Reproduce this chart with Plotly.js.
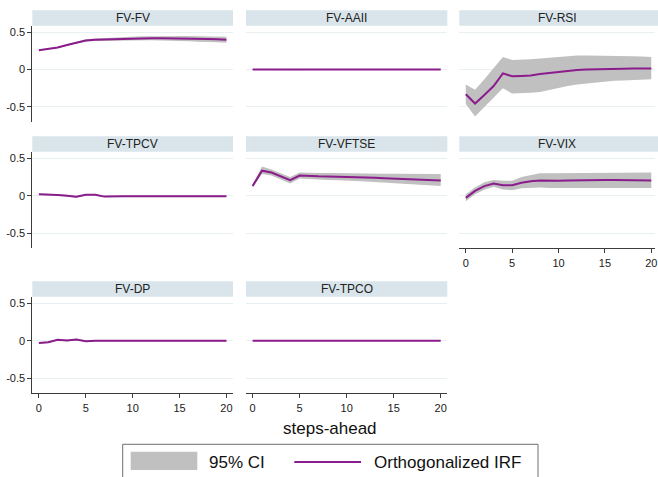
<!DOCTYPE html>
<html>
<head>
<meta charset="utf-8">
<script src="https://cdn.plot.ly/plotly-3.0.1.min.js"></script>
<style>html,body{margin:0;padding:0;background:#fff;}#chart{width:658px;height:477px;}</style>
</head>
<body>
<div id="chart"></div>
<script>
// ---- data ----
var steps = [0,1,2,3,4,5,6,7,8,9,10,11,12,13,14,15,16,17,18,19,20];
var panelNames = ["FV-FV","FV-AAII","FV-RSI","FV-TPCV","FV-VFTSE","FV-VIX","FV-DP","FV-TPCO"];
var xTicks = [0,5,10,15,20];
var yTicks = [-0.5,0,0.5];
var yTickLabels = ["-0.5","0","0.5"];
var legendLabels = ["95% CI","Orthogonalized IRF"];
var xTitle = "steps-ahead";

var irf_FV_FV   = [0.26,0.275,0.295,0.33,0.36,0.39,0.40,0.405,0.41,0.415,0.42,0.42,0.42,0.42,0.42,0.415,0.415,0.41,0.41,0.405,0.40];
var lo_FV_FV    = [0.255,0.269,0.287,0.32,0.348,0.375,0.383,0.386,0.389,0.392,0.395,0.393,0.392,0.39,0.389,0.382,0.381,0.374,0.373,0.366,0.36];
var hi_FV_FV    = [0.265,0.281,0.303,0.34,0.372,0.405,0.417,0.424,0.431,0.438,0.445,0.447,0.448,0.45,0.451,0.448,0.449,0.446,0.447,0.444,0.44];

var irf_FV_AAII = [0,0,-0.003,-0.005,-0.004,-0.003,-0.002,-0.001,0,0.002,0.002,0.002,0.001,0.001,0,0,0,0,0,0,0];
var lo_FV_AAII  = [-0.004,-0.006,-0.012,-0.014,-0.012,-0.009,-0.007,-0.006,-0.005,-0.003,-0.003,-0.003,-0.004,-0.004,-0.005,-0.005,-0.005,-0.005,-0.005,-0.005,-0.005];
var hi_FV_AAII  = [0.004,0.005,0.005,0.004,0.004,0.004,0.005,0.006,0.008,0.01,0.01,0.009,0.007,0.006,0.005,0.005,0.005,0.005,0.005,0.005,0.005];

var irf_FV_RSI  = [-0.33,-0.455,-0.34,-0.22,-0.05,-0.09,-0.085,-0.08,-0.06,-0.045,-0.03,-0.015,-0.005,0.0,0.005,0.005,0.01,0.012,0.014,0.015,0.015];
var lo_FV_RSI   = [-0.46,-0.63,-0.5,-0.38,-0.25,-0.32,-0.32,-0.31,-0.3,-0.27,-0.24,-0.22,-0.2,-0.185,-0.17,-0.16,-0.15,-0.145,-0.14,-0.135,-0.13];
var hi_FV_RSI   = [-0.2,-0.27,-0.13,0.02,0.17,0.13,0.14,0.14,0.15,0.16,0.18,0.185,0.19,0.19,0.19,0.19,0.19,0.185,0.18,0.175,0.17];

var irf_FV_TPCV = [0.022,0.02,0.01,0.003,-0.013,0.015,0.015,-0.01,-0.004,-0.004,-0.004,-0.005,-0.005,-0.005,-0.005,-0.005,-0.005,-0.005,-0.005,-0.005,-0.005];
var lo_FV_TPCV  = [0.014,0.011,0.0,-0.008,-0.024,0.004,0.004,-0.02,-0.012,-0.011,-0.011,-0.011,-0.011,-0.011,-0.011,-0.011,-0.011,-0.011,-0.011,-0.011,-0.011];
var hi_FV_TPCV  = [0.03,0.029,0.02,0.014,-0.002,0.026,0.026,0.0,0.004,0.003,0.003,0.001,0.001,0.001,0.001,0.001,0.001,0.001,0.001,0.001,0.001];

var irf_FV_VFTSE = [0.13,0.335,0.31,0.26,0.21,0.27,0.262,0.26,0.258,0.256,0.255,0.25,0.245,0.24,0.235,0.23,0.225,0.22,0.215,0.21,0.205];
var lo_FV_VFTSE  = [0.11,0.29,0.27,0.22,0.165,0.23,0.22,0.215,0.21,0.207,0.205,0.198,0.19,0.182,0.175,0.167,0.16,0.152,0.145,0.138,0.13];
var hi_FV_VFTSE  = [0.15,0.39,0.35,0.30,0.25,0.31,0.305,0.305,0.305,0.305,0.305,0.302,0.3,0.298,0.296,0.294,0.292,0.29,0.29,0.29,0.29];

var irf_FV_VIX  = [-0.027,0.067,0.13,0.165,0.143,0.143,0.175,0.196,0.205,0.2,0.2,0.205,0.208,0.21,0.21,0.21,0.21,0.21,0.21,0.207,0.205];
var lo_FV_VIX   = [-0.07,0.02,0.08,0.12,0.085,0.076,0.1,0.11,0.11,0.105,0.105,0.105,0.108,0.11,0.11,0.11,0.11,0.11,0.11,0.107,0.105];
var hi_FV_VIX   = [0.02,0.11,0.18,0.21,0.2,0.2,0.25,0.28,0.3,0.3,0.3,0.305,0.308,0.31,0.31,0.31,0.31,0.31,0.31,0.31,0.31];

var irf_FV_DP   = [-0.027,-0.018,0.015,0.005,0.018,-0.005,0,0,0,0,0,0,0,0,0,0,0,0,0,0,0];
var lo_FV_DP    = [-0.035,-0.027,0.006,-0.004,0.009,-0.013,-0.007,-0.007,-0.007,-0.007,-0.007,-0.007,-0.007,-0.007,-0.007,-0.007,-0.007,-0.007,-0.007,-0.007,-0.007];
var hi_FV_DP    = [-0.019,-0.009,0.024,0.014,0.027,0.003,0.007,0.007,0.007,0.007,0.007,0.007,0.007,0.007,0.007,0.007,0.007,0.007,0.007,0.007,0.007];

var irf_FV_TPCO = [0,0,0,0,0,0,0,0,0,0,0,0,0,0,0,0,0,0,0,0,0];
var lo_FV_TPCO  = [-0.003,-0.003,-0.003,-0.003,-0.003,-0.003,-0.003,-0.003,-0.003,-0.003,-0.003,-0.003,-0.003,-0.003,-0.003,-0.003,-0.003,-0.003,-0.003,-0.003,-0.003];
var hi_FV_TPCO  = [0.003,0.003,0.003,0.003,0.003,0.003,0.003,0.003,0.003,0.003,0.003,0.003,0.003,0.003,0.003,0.003,0.003,0.003,0.003,0.003,0.003];

var irfs = [irf_FV_FV, irf_FV_AAII, irf_FV_RSI, irf_FV_TPCV, irf_FV_VFTSE, irf_FV_VIX, irf_FV_DP, irf_FV_TPCO];
var los  = [lo_FV_FV, lo_FV_AAII, lo_FV_RSI, lo_FV_TPCV, lo_FV_VFTSE, lo_FV_VIX, lo_FV_DP, lo_FV_TPCO];
var his  = [hi_FV_FV, hi_FV_AAII, hi_FV_RSI, hi_FV_TPCV, hi_FV_VFTSE, hi_FV_VIX, hi_FV_DP, hi_FV_TPCO];

// ---- geometry (pixels) ----
var W = 658, H = 477;
var colPx = [[32.3,233],[246,447.3],[459.3,655]];
var colRange = [[-0.7,20.7],[-0.7,20.7],[-0.7,20.4]];
var rowPx = [[25.7,121.7],[151.7,248.3],[296.7,393.3]]; // plot top,bottom
var stripH = 15.5;
var yRange = [-0.698,0.588];
var LINE = "#8b1c8c", CI = "#c0c0c0", STRIP = "#d9e5eb", GRID = "#e9f0f2", AX = "#3c3c3c";
var FONT = "Liberation Sans, Arial, sans-serif";

function px2x(p){ return p / W; }
function px2y(p){ return 1 - p / H; }

var traces = [], layout = {
  width: W, height: H, margin: {l:0,r:0,t:0,b:0},
  paper_bgcolor: "#fff", plot_bgcolor: "#fff", showlegend: false,
  font: {family: FONT, color: "#1a1a1a", size: 11},
  shapes: [], annotations: []
};

// which panels show x axis (bottom of each column)
var showX = {6:true, 7:true, 5:true};

for (var i = 0; i < 8; i++) {
  var r = Math.floor(i / 3), c = i % 3;
  var n = i + 1;
  var xa = "x" + (n === 1 ? "" : n), ya = "y" + (n === 1 ? "" : n);
  var xk = "xaxis" + (n === 1 ? "" : n), yk = "yaxis" + (n === 1 ? "" : n);
  // CI band
  traces.push({x: steps, y: los[i], xaxis: xa, yaxis: ya, mode: "lines", line: {width: 0, color: CI}, hoverinfo: "skip", name: legendLabels[0]});
  traces.push({x: steps, y: his[i], xaxis: xa, yaxis: ya, mode: "lines", fill: "tonexty", fillcolor: CI, line: {width: 0, color: CI}, hoverinfo: "skip", name: legendLabels[0]});
  traces.push({x: steps, y: irfs[i], xaxis: xa, yaxis: ya, mode: "lines", line: {width: 2, color: LINE}, name: legendLabels[1]});

  layout[xk] = {
    domain: [px2x(colPx[c][0]), px2x(colPx[c][1])], range: colRange[c], anchor: ya,
    showgrid: false, zeroline: false,
    showline: !!showX[i], linecolor: AX, linewidth: 1,
    ticks: showX[i] ? "outside" : "", ticklen: 4, tickcolor: AX,
    tickvals: xTicks, ticktext: xTicks.map(String), showticklabels: !!showX[i],
    ticklabeloverflow: "allow",
    tickfont: {size: 11, color: "#1a1a1a", family: FONT}, fixedrange: true
  };
  layout[yk] = {
    domain: [px2y(rowPx[r][1]), px2y(rowPx[r][0])], range: yRange, anchor: xa,
    showgrid: true, gridcolor: GRID, gridwidth: 1, zeroline: false,
    showline: c === 0, linecolor: AX, linewidth: 1,
    ticks: c === 0 ? "outside" : "", ticklen: 4, tickcolor: AX,
    tickvals: yTicks, ticktext: yTickLabels, showticklabels: c === 0,
    ticklabeloverflow: "allow",
    tickfont: {size: 11, color: "#1a1a1a", family: FONT}, fixedrange: true
  };
  // strip
  layout.shapes.push({type: "rect", xref: "paper", yref: "paper",
    x0: px2x(colPx[c][0]), x1: px2x(c === 2 ? 658 : colPx[c][1]),
    y0: px2y(rowPx[r][0]), y1: px2y(rowPx[r][0] - stripH),
    fillcolor: STRIP, line: {width: 0}, layer: "below"});
  layout.annotations.push({xref: "paper", yref: "paper",
    x: px2x((colPx[c][0] + colPx[c][1]) / 2), y: px2y(rowPx[r][0] - stripH / 2),
    text: panelNames[i], showarrow: false, xanchor: "center", yanchor: "middle",
    font: {size: 12, color: "#222", family: FONT}});
}

// x title
layout.annotations.push({xref: "paper", yref: "paper", x: px2x(330), y: px2y(428),
  text: xTitle, showarrow: false, xanchor: "center", yanchor: "middle",
  font: {size: 17, color: "#111", family: FONT}});

// legend (drawn manually)
layout.shapes.push({type: "rect", xref: "paper", yref: "paper",
  x0: px2x(122.7), x1: px2x(538), y0: px2y(482), y1: px2y(444.3),
  fillcolor: "rgba(0,0,0,0)", line: {color: "#6e6e6e", width: 1}});
layout.shapes.push({type: "rect", xref: "paper", yref: "paper",
  x0: px2x(130.7), x1: px2x(197.3), y0: px2y(470), y1: px2y(451.7),
  fillcolor: CI, line: {width: 0}});
layout.shapes.push({type: "line", xref: "paper", yref: "paper",
  x0: px2x(294.3), x1: px2x(361), y0: px2y(462), y1: px2y(462),
  line: {color: LINE, width: 2}});
layout.annotations.push({xref: "paper", yref: "paper", x: px2x(207), y: px2y(462.5),
  text: legendLabels[0], showarrow: false, xanchor: "left", yanchor: "middle",
  font: {size: 17, color: "#111", family: FONT}});
layout.annotations.push({xref: "paper", yref: "paper", x: px2x(371.5), y: px2y(462.5),
  text: legendLabels[1], showarrow: false, xanchor: "left", yanchor: "middle",
  font: {size: 17, color: "#111", family: FONT}});

Plotly.newPlot("chart", traces, layout, {displayModeBar: false, staticPlot: true});
</script>
</body>
</html>
